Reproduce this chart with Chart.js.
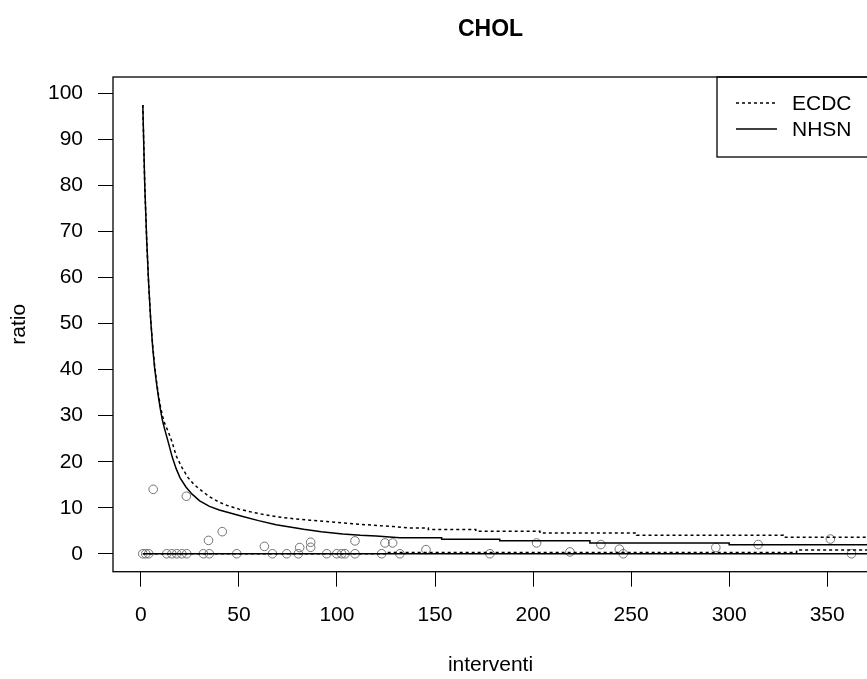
<!DOCTYPE html>
<html>
<head>
<meta charset="utf-8">
<title>CHOL</title>
<script src="https://cdn.jsdelivr.net/npm/chart.js@4.4.0/dist/chart.umd.min.js"></script>
<style>
    html, body { margin: 0; padding: 0; background: #fff; overflow: hidden; }
    #wrap { width: 867px; height: 679px; overflow: hidden; }
</style>
</head>
<body>
<div id="wrap">
    <canvas id="cholChart" width="880" height="679" style="width:880px;height:679px"></canvas>
</div>
<script>
const xTicks = [0, 50, 100, 150, 200, 250, 300, 350];
const yTicks = [0, 10, 20, 30, 40, 50, 60, 70, 80, 90, 100];

// upper limits
const ecdcUpperX = [1, 2, 3, 4, 5, 6, 7, 8, 9, 10, 11, 12, 14, 16, 18, 21, 24, 27, 30, 35, 40, 44, 50, 56, 63, 70, 78, 86, 95, 103, 115, 129, 137,
    146.6, 146.6, 170.8, 170.8, 203.5, 203.5, 252.8, 252.8, 327.6, 327.6, 372];
const ecdcUpperY = [97.5, 80, 68, 58.5, 51, 45.5, 41, 37.5, 34.5, 32, 30, 28.5, 26.5, 24.2, 21.3, 18.7, 16.6, 15.1, 14, 12.4, 11.2, 10.5, 9.7, 9.1, 8.5, 8.0, 7.6, 7.3, 7.0, 6.7, 6.3, 5.9, 5.6,
    5.6, 5.25, 5.25, 4.9, 4.9, 4.5, 4.5, 4.0, 4.0, 3.6, 3.6];

const nhsnUpperX = [1, 2, 3, 4, 5, 6, 7, 8, 9, 10, 11, 12, 14, 16, 18, 20, 23, 26, 30, 35, 40, 46, 52, 60, 69, 76, 83, 92, 103, 112, 120, 132,
    153.4, 153.4, 183, 183, 229, 229, 300, 300, 372];
const nhsnUpperY = [97.5, 80, 68, 58.5, 51, 45, 40.5, 37, 34, 31.3, 29, 27.3, 24.2, 21, 18.5, 16.5, 14.5, 13, 11.5, 10.3, 9.5, 8.8, 8.1, 7.2, 6.3, 5.8, 5.3, 4.8, 4.3, 4.0, 3.85, 3.5,
    3.5, 3.15, 3.15, 2.8, 2.8, 2.35, 2.35, 1.95, 1.95];

// lower limits
const ecdcLowerX = [1, 125, 125, 334.4, 334.4, 372];
const ecdcLowerY = [0, 0, 0.25, 0.25, 0.8, 0.8];
const nhsnLowerX = [1, 372];
const nhsnLowerY = [0, 0];

// observed ratios
const obsX = [1, 2.5, 4, 6.3, 13.2, 15.8, 18.3, 20.9, 23.4, 23.2, 31.9, 34.9, 34.5, 41.5, 48.9, 63, 67.1, 74.4, 80.3, 81, 86.6, 86.6,
    94.8, 99.9, 102.4, 104.1, 109.2, 109.2, 122.8, 124.5, 128.4, 132.1, 145.4, 178, 201.8, 218.8, 234.6, 244, 246, 293.2, 314.8, 351.6, 362.4];
const obsY = [0, 0, 0, 14.0, 0, 0, 0, 0, 0, 12.5, 0, 0, 2.9, 4.8, 0, 1.6, 0, 0, 0, 1.35, 2.5, 1.4,
    0, 0, 0, 0, 0, 2.8, 0, 2.35, 2.35, 0, 0.9, 0, 2.35, 0.4, 2.0, 1.0, 0, 1.35, 2.0, 3.2, 0];

const FONT = "'Liberation Sans', Arial, sans-serif";

const toPoints = (xs, ys) => xs.map((x, i) => ({ x: x, y: ys[i] }));

function lineSet(label, xs, ys, dash) {
    return {
        label: label,
        data: toPoints(xs, ys),
        showLine: true,
        borderColor: '#000',
        borderWidth: 1.5,
        borderDash: dash,
        pointRadius: 0,
        fill: false,
        tension: 0
    };
}

// box round the plot region plus the legend in the top right corner
const frame = {
    id: 'frame',
    afterDraw(chart) {
        const { ctx, chartArea: a } = chart;
        ctx.save();
        ctx.strokeStyle = '#000';
        ctx.lineWidth = 1.3;
        ctx.strokeRect(a.left, a.top, a.right - a.left, a.bottom - a.top);

        const lx = a.right - 151;
        ctx.strokeRect(lx, a.top, 151, 80);

        ctx.lineWidth = 1.5;
        ctx.setLineDash([3, 3]);
        ctx.beginPath();
        ctx.moveTo(lx + 19, a.top + 26);
        ctx.lineTo(lx + 60, a.top + 26);
        ctx.stroke();
        ctx.setLineDash([]);
        ctx.beginPath();
        ctx.moveTo(lx + 19, a.top + 52);
        ctx.lineTo(lx + 60, a.top + 52);
        ctx.stroke();

        ctx.fillStyle = '#000';
        ctx.font = '21px ' + FONT;
        ctx.textAlign = 'left';
        ctx.textBaseline = 'middle';
        ctx.fillText('ECDC', lx + 75, a.top + 27);
        ctx.fillText('NHSN', lx + 75, a.top + 53);
        ctx.restore();
    }
};

new Chart(document.getElementById('cholChart'), {
    type: 'scatter',
    data: {
        datasets: [
            lineSet('ECDC', ecdcUpperX, ecdcUpperY, [3, 3]),
            lineSet('ECDC lower', ecdcLowerX, ecdcLowerY, [3, 3]),
            lineSet('NHSN', nhsnUpperX, nhsnUpperY, []),
            lineSet('NHSN lower', nhsnLowerX, nhsnLowerY, []),
            {
                label: 'ratio',
                data: toPoints(obsX, obsY),
                pointStyle: 'circle',
                pointRadius: 4.3,
                pointBorderWidth: 1,
                pointBorderColor: '#737373',
                pointBackgroundColor: 'rgba(0,0,0,0)',
                showLine: false
            }
        ]
    },
    options: {
        responsive: false,
        animation: false,
        layout: { padding: { left: 0, right: 12, top: 0, bottom: 0 } },
        plugins: {
            legend: { display: false },
            tooltip: { enabled: false },
            title: {
                display: true,
                text: 'CHOL',
                fullSize: false,
                color: '#000',
                font: { family: FONT, size: 23, weight: 'bold' },
                padding: { top: 16, bottom: 33.4 }
            }
        },
        scales: {
            x: {
                type: 'linear',
                min: -14.2,
                max: 370.8,
                afterBuildTicks: s => { s.ticks = xTicks.map(v => ({ value: v })); },
                afterFit: s => { s.height = 107.3; },
                grid: { display: true, drawOnChartArea: false, drawTicks: true, tickLength: 15, color: '#000', lineWidth: 1 },
                border: { display: false },
                ticks: { color: '#000', font: { family: FONT, size: 21 }, padding: 16, maxRotation: 0 },
                title: { display: true, text: 'interventi', color: '#000', font: { family: FONT, size: 21 }, padding: { top: 0, bottom: 1.4 } }
            },
            y: {
                type: 'linear',
                min: -3.9,
                max: 103.6,
                afterBuildTicks: s => { s.ticks = yTicks.map(v => ({ value: v })); },
                afterFit: s => { s.width = 113; },
                grid: { display: true, drawOnChartArea: false, drawTicks: true, tickLength: 15, color: '#000', lineWidth: 1 },
                border: { display: false },
                ticks: { color: '#000', font: { family: FONT, size: 21 }, padding: 15 },
                title: { display: true, text: 'ratio', color: '#000', font: { family: FONT, size: 21 }, padding: { top: 6.4, bottom: 0 } }
            }
        }
    },
    plugins: [frame]
});
</script>
</body>
</html>
